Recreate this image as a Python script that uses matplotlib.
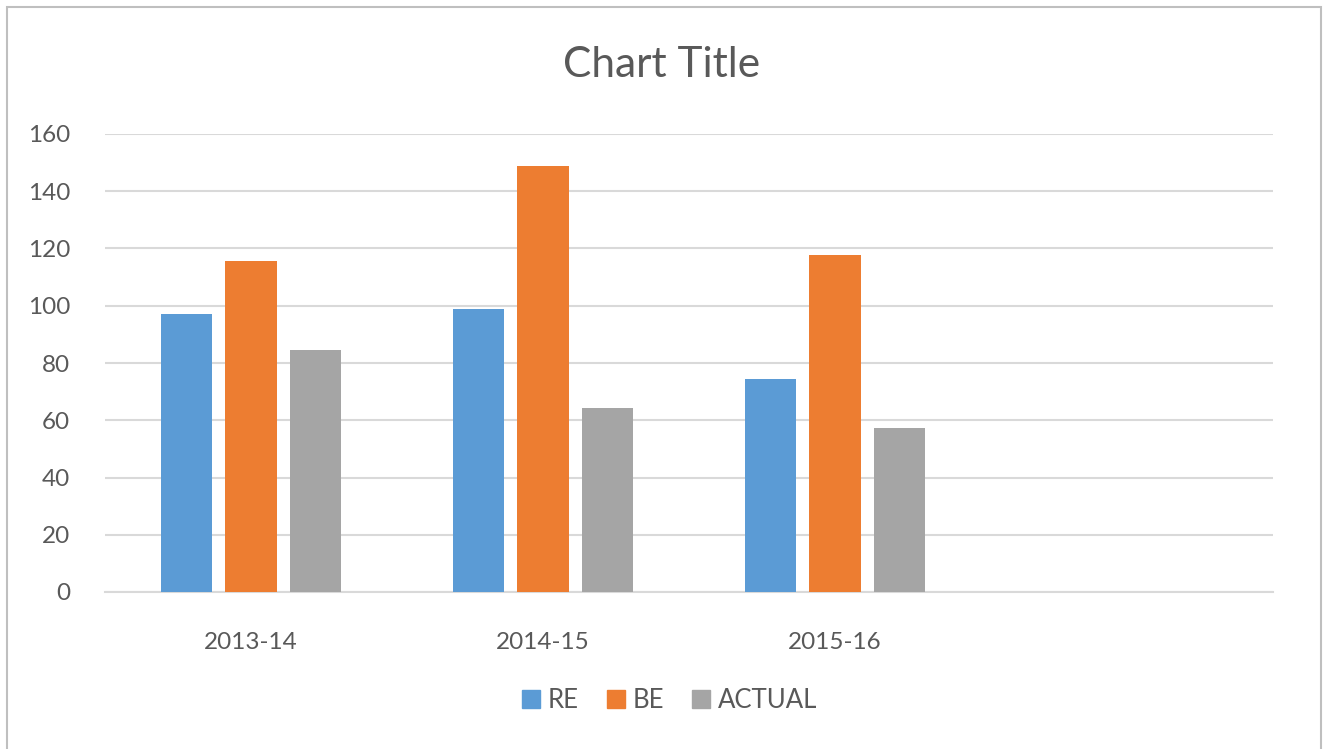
import matplotlib.pyplot as plt
import matplotlib.patches as mpatches
import numpy as np

plt.rcParams['font.family'] = ['Lato', 'DejaVu Sans']

# data
categories = ['2013-14', '2014-15', '2015-16']
series = ['RE', 'BE', 'ACTUAL']
re_vals = [97, 99, 74.5]
be_vals = [115.6, 148.8, 117.7]
actual_vals = [84.6, 64.3, 57.3]
colours = ['#5B9BD5', '#ED7D31', '#A5A5A5']

fig = plt.figure(figsize=(13.23, 7.49), dpi=100)
ax = fig.add_axes([105/1323, 1-592/749, (1273-105)/1323, (592-134)/749])

x = np.arange(len(categories))
w = 0.175
step = 0.222
for i, (vals, name) in enumerate(zip([re_vals, be_vals, actual_vals], series)):
    ax.bar(x + (i-1)*step, vals, w, color=colours[i], label=name, zorder=3)

ax.set_xlim(-0.5, 3.5)   # excel left an empty fourth slot
ax.set_ylim(0, 160)
ax.set_yticks(np.arange(0, 161, 20))
ax.set_xticks(x)
ax.set_xticklabels(categories)
ax.yaxis.grid(True, color='#d9d9d9', linewidth=1.5, zorder=0)
for s in ['top', 'right', 'left']:
    ax.spines[s].set_visible(False)
ax.spines['bottom'].set_color('#d9d9d9')
ax.spines['bottom'].set_linewidth(1.5)
ax.tick_params(axis='both', length=0, labelsize=17.5, colors='#595959')
ax.tick_params(axis='y', pad=25)
ax.tick_params(axis='x', pad=29)

fig.text(0.5, 1-65/749, 'Chart Title', ha='center', va='center', fontsize=30.5, color='#595959')

handles = [mpatches.Patch(color=c) for c in colours]
fig.legend(handles, series, loc='center', bbox_to_anchor=(0.506, 1-700/749), ncol=3,
           frameon=False, fontsize=18.5, handlelength=0.7, handleheight=0.7,
           handletextpad=0.3, columnspacing=1.1, labelcolor='#595959')

# outer chart border
fig.patches.append(mpatches.Rectangle((7/1323, -0.05), (1321-7)/1323, 1.05-7/749,
                                      transform=fig.transFigure, fill=False,
                                      edgecolor='#bfbfbf', linewidth=1.5))

plt.savefig('out.png', dpi=100)
